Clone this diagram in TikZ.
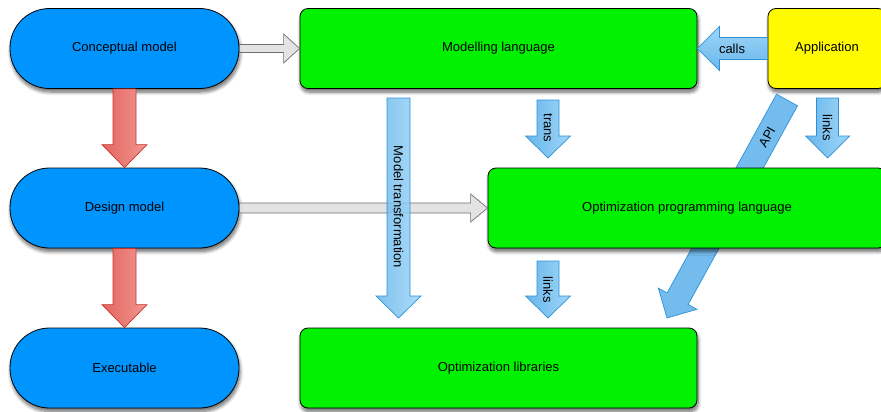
\documentclass[tikz,border=0pt]{standalone}
\usepackage{fontspec}
\setmainfont{Liberation Sans}
\usetikzlibrary{calc,shadows.blur}

\definecolor{bluebox}{RGB}{0,148,255}
\definecolor{greenbox}{RGB}{0,242,0}
\definecolor{yellowbox}{RGB}{255,250,0}
\definecolor{arrblueD}{RGB}{105,182,235}
\definecolor{arrblueL}{RGB}{158,214,248}
\definecolor{arrblueB}{RGB}{45,145,215}
\definecolor{arrredD}{RGB}{226,100,95}
\definecolor{arrredL}{RGB}{243,150,145}
\definecolor{arrredB}{RGB}{195,50,40}
\definecolor{arrgrayF}{RGB}{222,222,222}
\definecolor{arrgrayB}{RGB}{110,110,110}

% #1 style, #2 from, #3 to, #4 half shaft, #5 half head, #6 head length
\newcommand\blockarr[6]{%
  \draw[#1] ($(#2)!#4!90:(#3)$) -- ($(#3)!#6!(#2)!#4!-90:(#2)$)
    -- ($(#3)!#6!(#2)!#5!-90:(#2)$) -- (#3)
    -- ($(#3)!#6!(#2)!#5!90:(#2)$) -- ($(#3)!#6!(#2)!#4!90:(#2)$)
    -- ($(#2)!#4!-90:(#3)$) -- cycle;}

\tikzset{
  txt/.style={font=\fontsize{13}{15}\selectfont, text=black},
  box/.style={txt, draw=black, line width=0.8pt, rounded corners=8pt,
    minimum height=80pt, inner sep=0pt,
    blur shadow={shadow xshift=1pt, shadow yshift=-3.5pt, shadow blur radius=3.5pt, shadow blur steps=8, shadow opacity=60}},
  stadium/.style={box, fill=bluebox, rounded corners=39.5pt, minimum width=229pt},
  gbox/.style={box, fill=greenbox},
  ybox/.style={box, fill=yellowbox},
  bluearr/.style={draw=arrblueB, line width=0.7pt, left color=arrblueD, right color=arrblueL},
  bluearrh/.style={draw=arrblueB, line width=0.7pt, top color=arrblueL, bottom color=arrblueD},
  bluearrf/.style={draw=arrblueB, line width=0.7pt, fill=arrblueD!80!arrblueL},
  redarr/.style={draw=arrredB, line width=0.7pt, left color=arrredD, right color=arrredL},
  grayarr/.style={draw=arrgrayB, line width=0.7pt, fill=arrgrayF, fill opacity=0.85},
  lbl/.style={txt, inner sep=0pt}
}

\begin{document}
\begin{tikzpicture}[x=1pt,y=-1pt]
\useasboundingbox (0,0) rectangle (881,412);

% nodes
\node[stadium] (cm) at (124.5,48.5) {Conceptual model};
\node[stadium] (dm) at (124.5,208) {Design model};
\node[stadium] (ex) at (124.5,368) {Executable};
\node[gbox, minimum width=397pt] (ml) at (498.5,48.5) {Modelling language};
\node[ybox, minimum width=118pt] (app) at (827,48.5) {Application};
\node[gbox, minimum width=397pt] (ol) at (498.5,368) {Optimization libraries};

% free ends of connectors
\coordinate (transS) at (548,100);   \coordinate (transE) at (548,158);
\coordinate (linksAS) at (827.5,98); \coordinate (linksAE) at (827.5,158);
\coordinate (linksBS) at (548,261);  \coordinate (linksBE) at (548,318);
\coordinate (mtS) at (398.5,98);     \coordinate (mtE) at (398.5,318);
\coordinate (apiS) at (787,100);     \coordinate (apiE) at (667,318);

% API arrow (behind the programming language box)
\blockarr{bluearrf}{apiS}{apiE}{12pt}{22pt}{22pt}
\node[lbl, rotate=61] at (767,137) {API};

\node[gbox, minimum width=398pt] (opl) at (687,208) {Optimization programming language};

% red arrows
\blockarr{redarr}{cm.south}{dm.north}{11.5pt}{22.5pt}{23pt}
\blockarr{redarr}{dm.south}{ex.north}{11.5pt}{22.5pt}{23pt}

% gray arrows
\blockarr{grayarr}{cm.east}{ml.west}{4pt}{14.5pt}{16pt}
\blockarr{grayarr}{dm.east}{opl.west}{5pt}{14pt}{17pt}

% blue arrows
\blockarr{bluearrh}{app.west}{ml.east}{11pt}{22pt}{22pt}
\node[lbl] at (732,48.5) {calls};

\blockarr{bluearr}{transS}{transE}{11pt}{22.5pt}{22pt}
\node[lbl, rotate=-90] at (548,128) {trans};

\blockarr{bluearr}{linksAS}{linksAE}{11pt}{22pt}{22pt}
\node[lbl, rotate=-90] at (827.5,128) {links};

\blockarr{bluearr}{linksBS}{linksBE}{11pt}{22.5pt}{22pt}
\node[lbl, rotate=-90] at (548,290) {links};

\blockarr{bluearr, fill opacity=0.85}{mtS}{mtE}{11.5pt}{22.5pt}{22pt}
\node[lbl, rotate=-90] at (398.5,207) {Model transformation};

\end{tikzpicture}
\end{document}
